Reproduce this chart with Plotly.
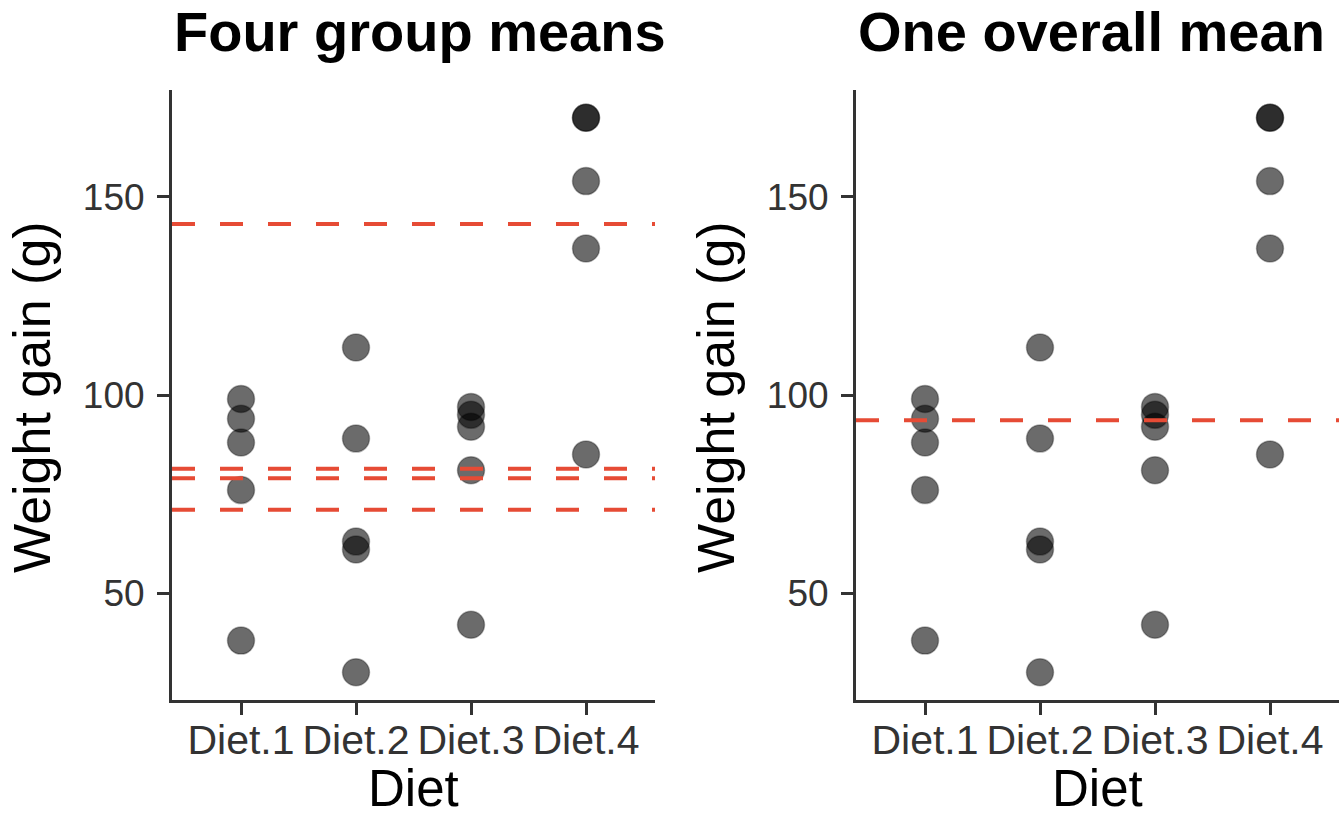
import plotly.graph_objects as go

# ---- data ----
diets = ["Diet.1", "Diet.2", "Diet.3", "Diet.4"]
diet1 = [99, 94, 88, 76, 38]
diet2 = [112, 89, 63, 61, 30]
diet3 = [97, 95, 92, 81, 42]
diet4 = [170, 170, 154, 137, 85]
panel_titles = ["Four group means", "One overall mean"]
x_title = "Diet"
y_title = "Weight gain (g)"
y_ticks = [50, 100, 150]

groups = [diet1, diet2, diet3, diet4]
group_means = [sum(g) / len(g) for g in groups]
all_vals = [v for g in groups for v in g]
overall_mean = sum(all_vals) / len(all_vals)

W, H = 1339, 816
def fx(px):
    return px / W
def fy(py):
    return 1 - py / H

FONT = "Liberation Sans, Arial, sans-serif"
AX = "#333333"
RED = "#E64B35"

left_dom = [fx(172), fx(655)]
right_dom = [fx(856), 1.0]
ydom = [fy(700), fy(90)]

xs = [d for d, g in zip(diets, groups) for _ in g]

fig = go.Figure()
marker = dict(size=27, color="rgba(0,0,0,0.58)",
              line=dict(color="rgba(0,0,0,0.3)", width=1.5))
fig.add_trace(go.Scatter(x=xs, y=all_vals, mode="markers", marker=marker,
                         xaxis="x", yaxis="y", hoverinfo="x+y"))
fig.add_trace(go.Scatter(x=xs, y=all_vals, mode="markers", marker=marker,
                         xaxis="x2", yaxis="y2", hoverinfo="x+y"))

dash = "23px,25px"
for m in group_means:
    fig.add_shape(type="line", xref="x domain", yref="y", x0=0, x1=1, y0=m, y1=m,
                  line=dict(color=RED, width=4, dash=dash), layer="above")
fig.add_shape(type="line", xref="x2 domain", yref="y2", x0=0, x1=1,
              y0=overall_mean, y1=overall_mean,
              line=dict(color=RED, width=4, dash=dash), layer="above")

def xaxis(dom, anchor):
    return dict(domain=dom, anchor=anchor, type="category",
                categoryorder="array", categoryarray=diets, range=[-0.6, 3.6],
                showline=True, linecolor=AX, linewidth=3, ticks="outside",
                ticklen=12, tickwidth=3, tickcolor=AX, showgrid=False,
                zeroline=False, ticklabelstandoff=-10,
                tickfont=dict(family=FONT, size=41, color=AX))

def yaxis(anchor):
    return dict(domain=ydom, anchor=anchor, range=[23, 177], tickvals=y_ticks,
                showline=True, linecolor=AX, linewidth=3, ticks="outside",
                ticklen=12, tickwidth=3, tickcolor=AX, showgrid=False,
                zeroline=False, ticklabelstandoff=5,
                tickfont=dict(family=FONT, size=37, color=AX))

annotations = []
for dom, t, ylab_x in [(left_dom, panel_titles[0], 32), (right_dom, panel_titles[1], 716)]:
    annotations.append(dict(text=t, x=dom[0], y=fy(32), xref="paper", yref="paper",
                            xanchor="left", yanchor="middle", showarrow=False,
                            font=dict(family=FONT, size=56, color="black", weight=700)))
    annotations.append(dict(text=x_title, x=(dom[0] + dom[1]) / 2, y=fy(788),
                            xref="paper", yref="paper", xanchor="center",
                            yanchor="middle", showarrow=False,
                            font=dict(family=FONT, size=51, color="black")))
    annotations.append(dict(text=y_title, x=fx(ylab_x), y=fy(397), xref="paper",
                            yref="paper", xanchor="center", yanchor="middle",
                            textangle=-90, showarrow=False,
                            font=dict(family=FONT, size=52, color="black")))

fig.update_layout(
    width=W, height=H, autosize=False,
    margin=dict(l=0, r=0, t=0, b=0, autoexpand=False),
    paper_bgcolor="white", plot_bgcolor="white", showlegend=False,
    xaxis=xaxis(left_dom, "y"), yaxis=yaxis("x"),
    xaxis2=xaxis(right_dom, "y2"), yaxis2=yaxis("x2"),
    annotations=annotations,
)

fig.write_html("out.html", config={"displayModeBar": False},
               post_script="document.body.style.margin='0';document.body.style.overflow='hidden';")
